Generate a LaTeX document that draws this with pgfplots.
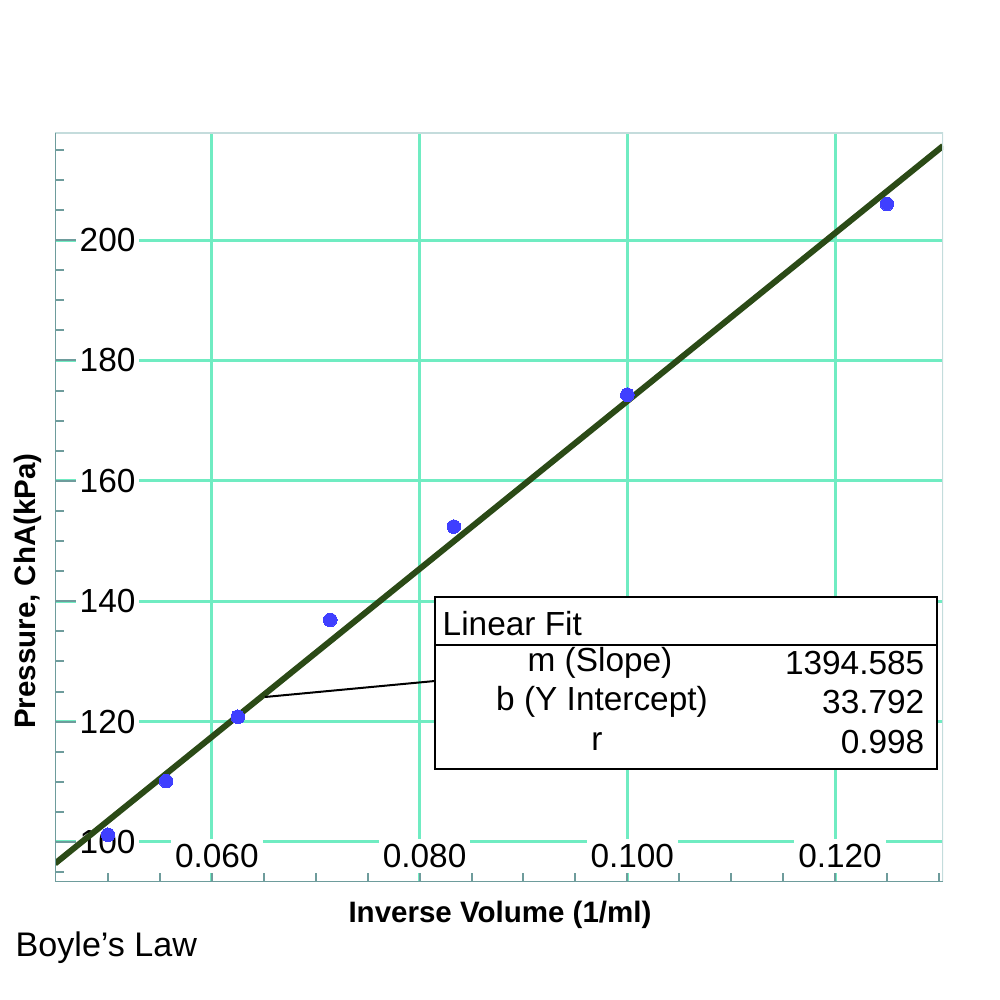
\documentclass[border=0pt]{standalone}
\usepackage{pgfplots}
\pgfplotsset{compat=1.18}
\usepackage{fontspec}
\setmainfont{Liberation Sans}
\definecolor{gridc}{HTML}{70ECC2}
\definecolor{axc}{HTML}{6E9C9C}
\definecolor{framec}{HTML}{C4DCDC}
\definecolor{fitc}{HTML}{2B4A16}
\definecolor{ptc}{HTML}{3F3FFF}
\begin{document}
\begin{tikzpicture}
\begin{axis}[
  set layers,
  at={(5.5mm,11.8mm)}, anchor=south west,
  scale only axis, width=88.8mm, height=74.9mm,
  xmin=0.0449, xmax=0.1304, ymin=93.35, ymax=217.8,
  xtick={0.06,0.08,0.10,0.12},
  ytick={100,120,140,160,180,200},
  minor xtick={0.050,0.055,0.065,0.070,0.075,0.085,0.090,0.095,0.105,0.110,0.115,0.125,0.130},
  minor ytick={95,105,110,115,125,130,135,145,150,155,165,170,175,185,190,195,205,210,215},
  xmajorgrids, ymajorgrids,
  major grid style={draw=gridc, line width=0.3mm},
  axis line style={draw=none},
  tick pos=left, tick align=inside,
  major tick length=2.3mm, minor tick length=0.9mm,
  every tick/.style={draw=axc, line width=0.2mm},
  /pgf/number format/assume math mode=true,
  xticklabel style={/pgf/number format/.cd, fixed, fixed zerofill, precision=3, assume math mode=true, /tikz/.cd,
    anchor=south, yshift=0.85mm, xshift=0.5mm, fill=white, inner xsep=0.4mm, inner ysep=0.5mm,
    font=\fontsize{9.5}{10}\selectfont},
  yticklabel style={anchor=west, xshift=2.0mm, fill=white, inner xsep=0.4mm, inner ysep=0.4mm,
    font=\fontsize{9.5}{10}\selectfont},
  scaled x ticks=false,
]
\addplot[fitc, line width=0.6mm] coordinates {(0.0449,96.41) (0.1304,215.65)};
\addplot[only marks, color=ptc, mark=*, mark size=0.68mm, mark options={fill=ptc, draw=ptc, line width=0pt}] coordinates {
  (0.0500,101.2) (0.0556,110.1) (0.0625,120.8) (0.0714,136.9) (0.0833,152.4) (0.1000,174.3) (0.1250,206.0)};
\draw[framec, line width=0.25mm] (rel axis cs:0,1) -- (rel axis cs:1,1) -- (rel axis cs:1,0);
\draw[axc, line width=0.25mm] (rel axis cs:0,1) -- (rel axis cs:0,0) -- (rel axis cs:1,0);
\end{axis}
\begin{scope}[x=1mm,y=1mm]
% linear fit box
\draw[black, line width=0.2mm] (43.5,31.9) -- (26.5,30.3);
\draw[black, line width=0.22mm, fill=white] (43.5,23.1) rectangle (93.7,40.3);
\draw[black, line width=0.22mm] (43.5,35.5) -- (93.7,35.5);
\begin{scope}[every node/.style={font=\fontsize{9.5}{11}\selectfont, inner sep=0pt}]
\node[anchor=west] at (44.2,37.6) {Linear Fit};
\node at (60.0,33.7) {m (Slope)};
\node at (60.2,29.8) {b (Y Intercept)};
\node at (59.7,25.8) {r};
\node[anchor=east] at (92.5,33.7) {1394.585};
\node[anchor=east] at (92.5,29.8) {33.792};
\node[anchor=east] at (92.5,25.8) {0.998};
\end{scope}
\node[font=\bfseries\fontsize{8.4}{10}\selectfont, rotate=90] at (2.8,40.9) {Pressure, ChA(kPa)};
\node[font=\bfseries\fontsize{8.4}{10}\selectfont] at (50.0,8.5) {Inverse Volume (1/ml)};
\node[font=\fontsize{9.7}{11}\selectfont, anchor=west, inner sep=0pt] at (1.5,5.2) {Boyle's Law};
\path[use as bounding box] (0,0) rectangle (100,100);
\end{scope}
\end{tikzpicture}
\end{document}
